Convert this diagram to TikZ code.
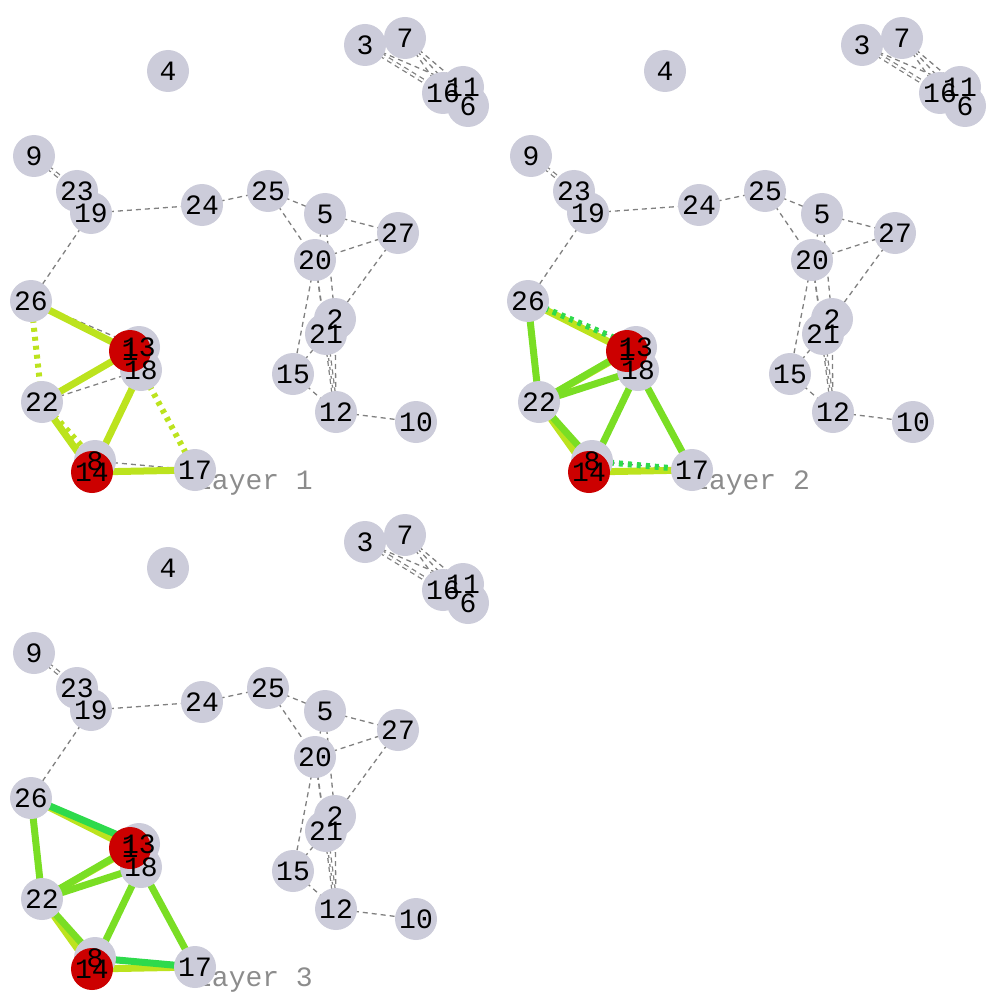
\documentclass[tikz,border=0pt]{standalone}
\usepackage{fontspec}
\setmonofont{Liberation Mono}
\usetikzlibrary{calc}
\pgfdeclarelayer{bg}
\pgfdeclarelayer{fg}
\pgfsetlayers{bg,main,fg}
\definecolor{nodegray}{RGB}{204,204,218}
\definecolor{hubred}{RGB}{204,0,0}
\definecolor{limec}{RGB}{188,227,30}
\definecolor{greenc}{RGB}{122,222,36}
\definecolor{brightc}{RGB}{46,218,76}
\definecolor{edgegray}{RGB}{128,128,128}
\definecolor{lblgray}{RGB}{140,140,140}
\tikzset{
  vtx/.style={circle, fill=nodegray, minimum size=42pt, inner sep=0pt},
  hub/.style={circle, fill=hubred, minimum size=42pt, inner sep=0pt},
  lbl/.style={font=\ttfamily\fontsize{28}{28}\selectfont, text=black, inner sep=0pt},
  layerlbl/.style={font=\ttfamily\fontsize{28}{28}\selectfont, text=lblgray, inner sep=0pt, anchor=base},
  gedge/.style={draw=edgegray, line width=1.3pt, dash pattern=on 5pt off 4pt},
  gdouble/.style={gedge, double=white, double distance=2pt},
  csolid/.style={line width=7pt},
  cdotted/.style={line width=6pt, dash pattern=on 4pt off 5pt},
}
\newcommand\drawlayer[4]{%
  \begin{scope}[shift={(#2,#3)}]
    \begin{pgfonlayer}{bg}
      \node[layerlbl] (#1L) at (254,489) {Layer #4};
    \end{pgfonlayer}
    \foreach \i/\x/\y in {13/139/347, 18/141/370, 8/95/461, 2/335/319, 3/365/45,
      4/168/71, 5/325/214, 6/468/106, 7/405/38, 9/34/156, 10/416/422, 11/463/87,
      12/336/412, 15/293/374, 16/443/93, 17/195/470, 23/77/191, 19/91/213,
      20/315/260, 21/326/334, 22/42/402, 24/202/205, 25/268/191, 26/31/301,
      27/398/233}
      \node[vtx] (#1n\i) at (\x,\y) {};
    \node[hub] (#1n1) at (130,351) {};
    \node[hub] (#1n14) at (92,472) {};
    \begin{pgfonlayer}{fg}
      \foreach \i in {1,2,3,4,5,6,7,8,9,10,11,12,13,14,15,16,17,18,19,20,21,22,23,24,25,26,27}
        \node[lbl] at (#1n\i) {\i};
    \end{pgfonlayer}
    \begin{pgfonlayer}{bg}
      \foreach \u/\v in {19/24, 24/25, 25/5, 25/20, 5/20, 5/27, 20/27, 27/2,
        20/15, 20/21, 20/12, 5/2, 2/12, 15/21, 15/12, 12/10, 19/26, 26/13,
        22/18, 8/17, 7/16, 7/11, 7/6, 3/11}
        \draw[gedge] (#1n\u.center) -- (#1n\v.center);
      \draw[gdouble] (#1n9.center) -- (#1n23.center);
      \draw[gdouble] (#1n3.center) -- (#1n16.center);
      \draw[gdouble] (#1n21.center) -- (#1n12.center);
    \end{pgfonlayer}
  \end{scope}}

\begin{document}
\begin{tikzpicture}[x=1pt,y=-1pt]
\useasboundingbox (0,0) rectangle (993,995);
\drawlayer{a}{0}{0}{1}
\drawlayer{b}{497}{0}{2}
\drawlayer{c}{0}{497}{3}
\begin{pgfonlayer}{bg}
  % layer 1
  \draw[csolid, limec] (an26.center) -- (an1.center);
  \draw[cdotted, limec] (an26.center) -- (an22.center);
  \draw[csolid, limec] (an22.center) -- (an1.center);
  \draw[csolid, limec] (an22.center) -- (an14.center);
  \draw[cdotted, limec] (an22.center) -- (an8.center);
  \draw[csolid, limec] (an18.center) -- (an14.center);
  \draw[cdotted, limec] (an18.center) -- (an17.center);
  \draw[csolid, limec] (an14.center) -- (an17.center);
  % layer 2
  \draw[csolid, limec] (bn26.center) -- (bn1.center);
  \draw[cdotted, brightc] (bn26.center) -- (bn13.center);
  \draw[csolid, greenc] (bn26.center) -- (bn22.center);
  \draw[csolid, limec] (bn22.center) -- (bn13.center);
  \draw[csolid, greenc] (bn22.center) -- (bn1.center);
  \draw[csolid, greenc] (bn22.center) -- (bn18.center);
  \draw[csolid, limec] (bn22.center) -- (bn14.center);
  \draw[csolid, greenc] (bn22.center) -- (bn8.center);
  \draw[csolid, greenc] (bn18.center) -- (bn14.center);
  \draw[csolid, greenc] (bn18.center) -- (bn17.center);
  \draw[csolid, limec] (bn14.center) -- (bn17.center);
  \draw[cdotted, brightc] (bn8.center) -- (bn17.center);
  % layer 3
  \draw[csolid, limec] (cn26.center) -- (cn1.center);
  \draw[csolid, brightc] (cn26.center) -- (cn13.center);
  \draw[csolid, greenc] (cn26.center) -- (cn22.center);
  \draw[csolid, limec] (cn22.center) -- (cn13.center);
  \draw[csolid, greenc] (cn22.center) -- (cn1.center);
  \draw[csolid, greenc] (cn22.center) -- (cn18.center);
  \draw[csolid, limec] (cn22.center) -- (cn14.center);
  \draw[csolid, greenc] (cn22.center) -- (cn8.center);
  \draw[csolid, greenc] (cn18.center) -- (cn14.center);
  \draw[csolid, greenc] (cn18.center) -- (cn17.center);
  \draw[csolid, limec] (cn14.center) -- (cn17.center);
  \draw[csolid, brightc] (cn8.center) -- (cn17.center);
\end{pgfonlayer}
\end{tikzpicture}
\end{document}
